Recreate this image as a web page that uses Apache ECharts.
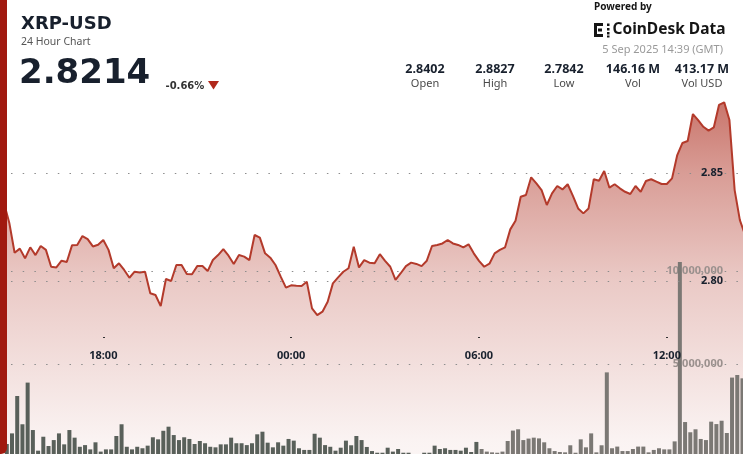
<!DOCTYPE html>
<html>
<head>
<meta charset="utf-8">
<script src="https://cdn.jsdelivr.net/npm/echarts@6/dist/echarts.min.js"></script>
<style>
html,body{margin:0;padding:0;background:#fff;overflow:hidden;}
#chart{position:absolute;left:0;top:0;width:743px;height:454px;}
#edge{position:absolute;left:0;top:0;width:7px;height:454px;background:#a11a10;border-bottom-right-radius:6px;}
</style>
</head>
<body>
<div id="chart"></div>
<div id="edge"></div>
<script>
// ---- data (times in minutes relative to 00:00 on 5 Sep 2025, GMT) ----
const priceStartMinute = -560;   // 14:40 on 4 Sep
const priceStepMinutes = 10;
const priceValues = [
  2.8402, 2.8358, 2.8267, 2.8131, 2.8150, 2.8105, 2.8156, 2.8120, 2.8162, 2.8144,
  2.8066, 2.8063, 2.8094, 2.8088, 2.8165, 2.8167, 2.8208, 2.8194, 2.8160, 2.8168,
  2.8190, 2.8144, 2.8059, 2.8082, 2.8051, 2.8015, 2.8043, 2.8039, 2.8043, 2.7943,
  2.7935, 2.7884, 2.8009, 2.8000, 2.8074, 2.8074, 2.8032, 2.8031, 2.8069, 2.8069,
  2.8046, 2.8097, 2.8120, 2.8148, 2.8117, 2.8079, 2.8120, 2.8113, 2.8097, 2.8213,
  2.8201, 2.8128, 2.8108, 2.8074, 2.8020, 2.7969, 2.7980, 2.7978, 2.7977, 2.7997,
  2.7873, 2.7842, 2.7858, 2.7904, 2.7989, 2.8017, 2.8043, 2.8059, 2.8159, 2.8063,
  2.8097, 2.8085, 2.8082, 2.8124, 2.8093, 2.8066, 2.8005, 2.8036, 2.8069, 2.8085,
  2.8079, 2.8069, 2.8094, 2.8162, 2.8167, 2.8174, 2.8190, 2.8174, 2.8167, 2.8156,
  2.8170, 2.8128, 2.8093, 2.8066, 2.8080, 2.8128, 2.8144, 2.8156, 2.8239, 2.8279,
  2.8390, 2.8398, 2.8480, 2.8452, 2.8421, 2.8352, 2.8406, 2.8440, 2.8424, 2.8448,
  2.8394, 2.8336, 2.8313, 2.8336, 2.8471, 2.8464, 2.8509, 2.8432, 2.8448, 2.8429,
  2.8413, 2.8403, 2.8440, 2.8413, 2.8463, 2.8471, 2.8460, 2.8449, 2.8449, 2.8475,
  2.8583, 2.8639, 2.8648, 2.8773, 2.8745, 2.8714, 2.8696, 2.8711, 2.8815, 2.8827,
  2.8745, 2.8421, 2.8282, 2.8214
];

const volumeStartMinute = -545;  // bar centred at 14:55 on 4 Sep
const volumeStepMinutes = 10;
const volumeMillions = [
  0.70, 1.27, 3.28, 1.76, 4.00, 1.45, 0.34, 1.09, 0.59, 0.91,
  1.27, 0.68, 1.45, 1.04, 0.55, 0.64, 0.41, 0.79, 0.29, 0.41,
  0.41, 1.13, 1.76, 0.55, 0.41, 0.55, 0.47, 0.61, 1.06, 0.95,
  1.41, 1.63, 1.18, 0.91, 1.06, 0.97, 0.70, 0.86, 0.74, 0.55,
  0.52, 0.68, 0.68, 1.04, 0.74, 0.74, 0.64, 0.74,
  1.22, 1.36, 0.77, 0.52, 0.79, 0.61, 0.97, 0.88, 0.47, 0.38,
  0.38, 1.25, 1.04, 0.64, 0.55, 0.34, 0.50, 0.88, 0.63, 1.13,
  0.91, 0.54, 0.32, 0.23, 0.23, 0.50, 0.29, 0.43, 0.23, 0.23,
  0.16, 0.16, 0.23, 0.23, 0.61, 0.43, 0.47, 0.38, 0.38, 0.34,
  0.50, 0.27, 0.81,
  0.43, 0.29, 0.25, 0.23, 0.29, 0.86, 1.42, 1.49, 0.91, 0.99,
  1.04, 1.00, 0.79, 0.47, 0.32, 0.27, 0.25, 0.63, 0.23, 0.95,
  0.52, 1.27, 0.25, 0.63, 4.55, 0.47, 0.56, 0.32, 0.32, 0.43,
  0.56, 0.56, 0.25, 0.38, 0.47, 0.41, 0.41, 0.84, 10.48, 1.88,
  1.33, 1.49, 0.97, 0.91, 1.90, 1.77, 1.95, 1.29, 4.27, 4.41,
  4.23
];
const volumeLightFromIndex = 91;

const xMinMinute = -558;   // 14:42 on 4 Sep
const xMaxMinute = 866;    // 14:26 on 5 Sep
const xTickValues = [-360, 0, 360, 720];
const xTickLabels = ['18:00', '00:00', '06:00', '12:00'];

const priceTickValues = [2.80, 2.85];
const priceTickLabels = ['2.80', '2.85'];
const volumeTickValues = [5000000, 10000000];
const volumeTickLabels = ['5,000,000', '10,000,000'];

const headerTitle = 'XRP-USD';
const headerSubtitle = '24 Hour Chart';
const lastPrice = '2.8214';
const changeText = '-0.66%';
const poweredText = 'Powered by';
const brandText = 'CoinDesk Data';
const dateText = '5 Sep 2025 14:39 (GMT)';
const statValues = ['2.8402', '2.8827', '2.7842', '146.16 M', '413.17 M'];
const statLabels = ['Open', 'High', 'Low', 'Vol', 'Vol USD'];

// ---- build ----
const priceData = priceValues.map((v, i) => [priceStartMinute + i * priceStepMinutes, v]);
const volumeData = volumeMillions.map((v, i) => [volumeStartMinute + i * volumeStepMinutes, v * 1e6]);

const SANS = "'Noto Sans', 'Open Sans', sans-serif";
const WIDE = "'DejaVu Sans', sans-serif";
const NAVY = '#18202d';
const DOT = [1.5, 10.2];
const GRIDC = '#8c8c8c';
const T = 'rgba(0,0,0,0)';

function findLabel(values, labels, v) {
  for (let i = 0; i < values.length; i++) {
    if (Math.abs(values[i] - v) < 1e-6 * Math.max(1, Math.abs(v))) return labels[i];
  }
  return '';
}

const statX = [425, 495, 564, 633, 702];
const graphics = [];
graphics.push({type: 'text', x: 21, y: 24.5, z: 100, style: {text: headerTitle, font: 'bold 18px ' + WIDE, fill: NAVY, textAlign: 'left', textVerticalAlign: 'middle'}});
graphics.push({type: 'text', x: 21, y: 42, z: 100, style: {text: headerSubtitle, font: '10.5px ' + SANS, fill: '#555', textAlign: 'left', textVerticalAlign: 'middle'}});
graphics.push({type: 'text', x: 19, y: 74.5, z: 100, style: {text: lastPrice, font: 'bold 34px ' + WIDE, fill: NAVY, textAlign: 'left', textVerticalAlign: 'middle'}});
graphics.push({type: 'text', x: 165.5, y: 86, z: 100, style: {text: changeText, font: 'bold 10px ' + WIDE, fill: '#333', textAlign: 'left', textVerticalAlign: 'middle'}});
graphics.push({type: 'polygon', z: 100, shape: {points: [[208, 81], [219, 81], [213.5, 89.5]]}, style: {fill: '#b0281b'}});
graphics.push({type: 'text', x: 594, y: 7.5, z: 100, style: {text: poweredText, font: 'bold 10px ' + SANS, fill: '#151515', textAlign: 'left', textVerticalAlign: 'middle'}});
// logo mark
[[594, 23, 3, 14], [594, 23, 9, 3], [594, 34, 9, 3], [598, 28.5, 4, 3], [607, 23.5, 2.5, 2.5], [607, 28, 2.5, 2.5], [607, 32, 2.5, 2.5], [607, 35.5, 2.5, 2]].forEach(r => {
  graphics.push({type: 'rect', z: 100, shape: {x: r[0], y: r[1], width: r[2], height: r[3]}, style: {fill: '#151515'}});
});
graphics.push({type: 'text', x: 612.5, y: 30, z: 100, style: {text: brandText, font: 'bold 15.5px ' + SANS, fill: '#151515', textAlign: 'left', textVerticalAlign: 'middle'}});
graphics.push({type: 'text', x: 723, y: 50, z: 100, style: {text: dateText, font: '11px ' + SANS, fill: '#9a9a9a', textAlign: 'right', textVerticalAlign: 'middle'}});
statValues.forEach((s, i) => {
  graphics.push({type: 'text', x: statX[i], y: 69, z: 100, style: {text: s, font: 'bold 12.5px ' + SANS, fill: NAVY, textAlign: 'center', textVerticalAlign: 'middle'}});
  graphics.push({type: 'text', x: statX[i], y: 84, z: 100, style: {text: statLabels[i], font: '11px ' + SANS, fill: '#4a4a4a', textAlign: 'center', textVerticalAlign: 'middle'}});
});

const hiddenX = (gi) => ({
  type: 'value', gridIndex: gi, min: xMinMinute, max: xMaxMinute,
  axisLine: {show: false}, axisTick: {show: false}, axisLabel: {show: false}, splitLine: {show: false}
});

const option = {
  animation: false,
  backgroundColor: '#ffffff',
  grid: [
    {left: 0, right: 0, top: 65, bottom: -43, outerBoundsMode: 'none', containLabel: false},
    {left: 0, right: 0, top: 178, bottom: -3, outerBoundsMode: 'none', containLabel: false},
    {left: 0, right: 0, top: 0, bottom: 117, outerBoundsMode: 'none', containLabel: false}
  ],
  xAxis: [
    hiddenX(0),
    hiddenX(1),
    {
      type: 'value', gridIndex: 2, min: xMinMinute, max: xMaxMinute, z: 6,
      axisLine: {show: false},
      axisTick: {show: true, customValues: xTickValues, length: 1, lineStyle: {color: '#333', width: 2}},
      axisLabel: {show: true, customValues: xTickValues, margin: 13,
        formatter: (v) => findLabel(xTickValues, xTickLabels, v),
        fontFamily: SANS, fontWeight: 'bold', fontSize: 11, color: NAVY},
      splitLine: {show: false}
    }
  ],
  yAxis: [
    {
      type: 'value', gridIndex: 0, position: 'right', min: 2.70, max: 2.90, interval: 0.05, z: 6,
      axisLine: {show: false}, axisTick: {show: false},
      axisLabel: {inside: true, margin: 20, formatter: (v) => findLabel(priceTickValues, priceTickLabels, v),
        fontFamily: SANS, fontWeight: 'bold', fontSize: 11, color: NAVY},
      splitLine: {show: true, lineStyle: {color: [T, T, GRIDC, GRIDC, T], type: DOT, dashOffset: 0.7, width: 1}}
    },
    {
      type: 'value', gridIndex: 1, position: 'right', min: 0, max: 15000000, interval: 5000000, z: 2,
      axisLine: {show: false}, axisTick: {show: false},
      axisLabel: {inside: true, margin: 20, formatter: (v) => findLabel(volumeTickValues, volumeTickLabels, v),
        fontFamily: SANS, fontWeight: 'bold', fontSize: 11, color: '#9a908d'},
      splitLine: {show: true, lineStyle: {color: [T, GRIDC, GRIDC, T], type: DOT, dashOffset: 0.7, width: 1}}
    },
    {type: 'value', gridIndex: 2, show: false, min: 0, max: 1}
  ],
  series: [
    {
      type: 'line', name: 'Price', xAxisIndex: 0, yAxisIndex: 0, z: 1,
      data: priceData, showSymbol: false, symbol: 'none',
      lineStyle: {color: '#b33a2b', width: 2},
      areaStyle: {
        color: new echarts.graphic.LinearGradient(0, 0, 0, 1, [
          {offset: 0, color: 'rgba(172,42,27,0.92)'},
          {offset: 0.18, color: 'rgba(172,42,27,0.66)'},
          {offset: 0.45, color: 'rgba(172,42,27,0.36)'},
          {offset: 0.86, color: 'rgba(172,42,27,0.08)'},
          {offset: 1, color: 'rgba(172,42,27,0.04)'}
        ])
      }
    },
    {
      type: 'bar', name: 'Volume', xAxisIndex: 1, yAxisIndex: 1, z: 3,
      data: volumeData, barWidth: 4,
      itemStyle: {color: (p) => p.dataIndex >= volumeLightFromIndex ? '#7b7874' : '#59605a'}
    }
  ],
  graphic: graphics
};

const chart = echarts.init(document.getElementById('chart'), null, {renderer: 'canvas'});
chart.setOption(option);
</script>
</body>
</html>
